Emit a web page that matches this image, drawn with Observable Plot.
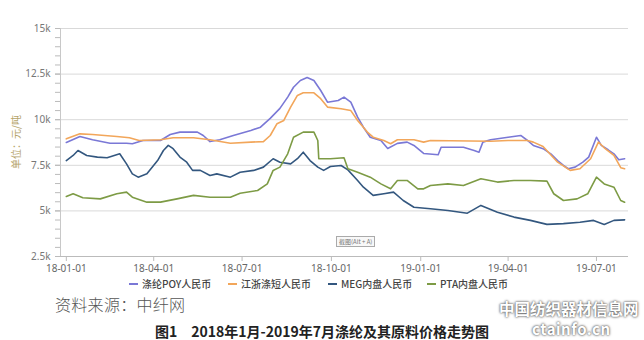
<!DOCTYPE html>
<html><head><meta charset="utf-8">
<script src="https://cdn.jsdelivr.net/npm/d3@7"></script>
<script src="https://cdn.jsdelivr.net/npm/@observablehq/plot@0.6"></script>
<style>
body{margin:0;background:#fff;font-family:"Noto Sans CJK SC","Noto Sans",sans-serif;}
#wrap{position:relative;width:644px;height:340px;overflow:hidden;background:#fff;}
#chart{position:absolute;left:0;top:0;}
.ylab{position:absolute;left:-12px;top:136px;width:56px;text-align:center;font-size:10px;line-height:12px;color:#b5a46a;transform:rotate(-90deg);white-space:nowrap;}
.leg{position:absolute;top:278px;font-size:10px;line-height:12px;color:#444;font-weight:500;white-space:nowrap;display:flex;align-items:center;}
.leg i{display:inline-block;width:9px;height:2px;margin-right:4px;}
.src{position:absolute;left:55px;top:295px;font-size:16px;line-height:18px;color:#555;font-weight:300;letter-spacing:0.3px;}
.title{position:absolute;left:155px;top:324px;font-size:14px;line-height:15px;font-weight:bold;color:#222;white-space:nowrap;}
.wm1{position:absolute;left:499px;top:300px;font-size:15.5px;line-height:17px;color:#fff;font-weight:bold;text-shadow:0 0 2px #555,0 0 3px #777;white-space:nowrap;}
.wm2{position:absolute;left:532px;top:321px;font-size:15px;line-height:16px;color:#fff;font-weight:bold;letter-spacing:0.5px;text-shadow:0 0 2px #555,0 0 3px #777;white-space:nowrap;}
.shot{position:absolute;left:336px;top:236px;font-size:6px;color:#777;border:1px solid #aaa;padding:0 2px;background:#f8f8f8;line-height:9px;}
</style></head><body>
<div id="wrap">
<div id="chart"></div>
<div class="ylab">单位：元/吨</div>
<div class="leg" style="left:129px"><i style="background:#7a78d6"></i>涤纶POY人民币</div>
<div class="leg" style="left:228px"><i style="background:#f2a65a"></i>江浙涤短人民币</div>
<div class="leg" style="left:328px"><i style="background:#33577f"></i>MEG内盘人民币</div>
<div class="leg" style="left:427px"><i style="background:#7d9b45"></i>PTA内盘人民币</div>
<div class="src">资料来源：中纤网</div>
<div class="title">图1　2018年1月-2019年7月涤纶及其原料价格走势图</div>
<div class="shot">截图(Alt + A)</div>
<div class="wm1">中国纺织器材信息网</div>
<div class="wm2">ctainfo.cn</div>
</div>
<script>
const seriesNames = ["涤纶POY人民币", "江浙涤短人民币", "MEG内盘人民币", "PTA内盘人民币"];
const seriesColors = ["#7a78d6", "#f2a65a", "#33577f", "#7d9b45"];

const poyDates = ["2018-01-01","2018-01-15","2018-01-28","2018-02-15","2018-03-04","2018-03-10","2018-03-21","2018-04-08","2018-04-18","2018-04-28","2018-05-16","2018-05-22","2018-05-29","2018-06-08","2018-06-22","2018-07-10","2018-07-20","2018-07-30","2018-08-09","2018-08-17","2018-08-23","2018-08-30","2018-09-06","2018-09-13","2018-09-20","2018-09-27","2018-10-08","2018-10-14","2018-10-21","2018-10-28","2018-11-03","2018-11-10","2018-11-21","2018-11-28","2018-12-08","2018-12-18","2018-12-25","2019-01-04","2019-01-19","2019-01-22","2019-02-14","2019-02-25","2019-03-02","2019-03-06","2019-03-14","2019-04-01","2019-04-14","2019-04-21","2019-04-27","2019-05-07","2019-05-15","2019-05-22","2019-05-28","2019-06-02","2019-06-09","2019-06-17","2019-06-23","2019-07-01","2019-07-06","2019-07-13","2019-07-19","2019-07-24","2019-07-30"];
const poyValues = [8750,9080,8900,8710,8710,8680,8860,8860,9190,9320,9320,9135,8800,8900,9135,9410,9590,10070,10620,11240,11780,12150,12310,12150,11600,10960,11050,11240,10960,10140,9590,9040,8860,8420,8700,8770,8590,8150,8080,8490,8490,8310,8220,8770,8900,9040,9135,8860,8590,8410,8130,7760,7490,7310,7400,7670,7950,9040,8590,8350,8130,7800,7860];

const dsfDates = ["2018-01-01","2018-01-15","2018-01-28","2018-02-22","2018-03-07","2018-03-17","2018-04-08","2018-04-21","2018-05-12","2018-05-29","2018-06-19","2018-07-10","2018-07-23","2018-07-30","2018-08-06","2018-08-13","2018-08-20","2018-08-27","2018-09-02","2018-09-13","2018-09-20","2018-09-27","2018-10-11","2018-10-21","2018-10-28","2018-11-07","2018-11-13","2018-11-24","2018-12-01","2018-12-08","2018-12-25","2019-01-04","2019-01-11","2019-03-14","2019-04-01","2019-04-21","2019-04-27","2019-05-07","2019-05-22","2019-06-04","2019-06-14","2019-06-25","2019-07-03","2019-07-09","2019-07-19","2019-07-26","2019-07-30"];
const dsfValues = [8950,9225,9190,9080,9010,8860,8900,9010,9010,8900,8710,8770,8800,9135,9780,9960,10690,11330,11475,11475,11150,10690,10600,10500,9960,9320,9040,8860,8680,8900,8900,8770,8860,8820,8860,8860,8770,8530,7670,7220,7310,7860,8770,8460,8040,7370,7310];

const megDates = ["2018-01-01","2018-01-08","2018-01-13","2018-01-22","2018-02-02","2018-02-12","2018-02-25","2018-03-04","2018-03-10","2018-03-16","2018-03-25","2018-04-05","2018-04-11","2018-04-16","2018-04-21","2018-04-28","2018-05-05","2018-05-11","2018-05-19","2018-05-29","2018-06-05","2018-06-19","2018-06-29","2018-07-13","2018-07-23","2018-08-02","2018-08-09","2018-08-20","2018-08-27","2018-09-02","2018-09-09","2018-09-17","2018-09-23","2018-09-30","2018-10-11","2018-10-18","2018-10-28","2018-11-03","2018-11-13","2018-11-24","2018-12-04","2018-12-14","2018-12-25","2019-01-11","2019-01-29","2019-02-18","2019-03-04","2019-03-21","2019-04-07","2019-04-24","2019-05-11","2019-05-28","2019-06-14","2019-06-28","2019-07-09","2019-07-19","2019-07-30"];
const megValues = [7760,8040,8310,8040,7950,7910,8130,7580,7030,6850,7030,7760,8310,8590,8410,7950,7670,7220,7220,6940,7030,6850,7120,7220,7400,7860,7670,7580,7860,8220,7760,7400,7220,7435,7490,7250,6670,6300,5850,5940,6030,5570,5200,5120,5020,4875,5300,4930,4660,4480,4260,4300,4380,4480,4260,4480,4510];

const ptaDates = ["2018-01-01","2018-01-08","2018-01-18","2018-02-05","2018-02-22","2018-03-04","2018-03-10","2018-03-25","2018-04-08","2018-04-25","2018-05-12","2018-05-29","2018-06-19","2018-06-29","2018-07-17","2018-07-27","2018-08-02","2018-08-09","2018-08-17","2018-08-23","2018-09-02","2018-09-13","2018-09-17","2018-09-18","2018-09-30","2018-10-14","2018-10-18","2018-10-28","2018-11-10","2018-11-21","2018-12-01","2018-12-08","2018-12-18","2018-12-29","2019-01-04","2019-01-11","2019-01-29","2019-02-14","2019-03-04","2019-03-21","2019-04-07","2019-04-24","2019-05-11","2019-05-18","2019-05-28","2019-06-11","2019-06-22","2019-07-01","2019-07-09","2019-07-19","2019-07-26","2019-07-30"];
const ptaValues = [5790,5940,5720,5660,5940,6030,5750,5480,5480,5660,5850,5750,5750,5970,6120,6480,7220,7400,8130,9040,9320,9320,8860,7860,7860,7910,7310,7120,6850,6480,6210,6670,6670,6210,6210,6390,6480,6390,6760,6580,6670,6670,6630,5940,5570,5660,5940,6850,6480,6300,5570,5480];

const xTickDates = ["2018-01-01","2018-04-01","2018-07-01","2018-10-01","2019-01-01","2019-04-01","2019-07-01"];
const yTickValues = [2500,5000,7500,10000,12500,15000];
const yTickLabels = ["2.5k","5k","7.5k","10k","12.5k","15k"];

const allDates = [poyDates, dsfDates, megDates, ptaDates];
const allValues = [poyValues, dsfValues, megValues, ptaValues];
const rows = [];
allDates.forEach((ds, s) => ds.forEach((d, i) => rows.push({series: seriesNames[s], date: new Date(d), value: allValues[s][i]})));

const minorTicks = d3.range(2500, 15001, 500);
const xTicks = xTickDates.map(d => new Date(d));
const fmt = d3.utcFormat("%y-%m-%d");

const chart = Plot.plot({
  width: 644, height: 280,
  marginLeft: 60, marginRight: 16, marginTop: 28, marginBottom: 24,
  style: {fontFamily: "'Noto Sans', sans-serif", fontSize: "10px", background: "transparent"},
  x: {type: "utc", domain: [new Date("2017-12-26"), new Date("2019-08-03")], label: null},
  y: {domain: [2500, 15000], label: null},
  color: {domain: seriesNames, range: seriesColors},
  marks: [
    Plot.gridY(yTickValues, {stroke: "#d9d9d9", strokeOpacity: 1, strokeWidth: 1}),
    Plot.axisY(minorTicks, {tickSize: 5, tickFormat: () => "", stroke: "#bbb", label: null}),
    Plot.axisY(yTickValues, {tickSize: 5, tickPadding: 5, tickFormat: (d) => yTickLabels[yTickValues.indexOf(d)], fill: "#777", stroke: "#bbb", label: null}),
    Plot.axisX(xTicks, {tickSize: 5, tickPadding: 3, tickFormat: fmt, fill: "#666", stroke: "#bbb", label: null}),
    Plot.ruleY([2500], {stroke: "#bbb"}),
    Plot.ruleX([new Date("2017-12-26")], {y1: 2500, y2: 15000, stroke: "#c8c8c8"}),
    Plot.line(rows, {x: "date", y: "value", z: "series", stroke: "series", strokeWidth: 1.6, curve: "linear"})
  ]
});
document.getElementById("chart").appendChild(chart);
</script>
</body></html>
